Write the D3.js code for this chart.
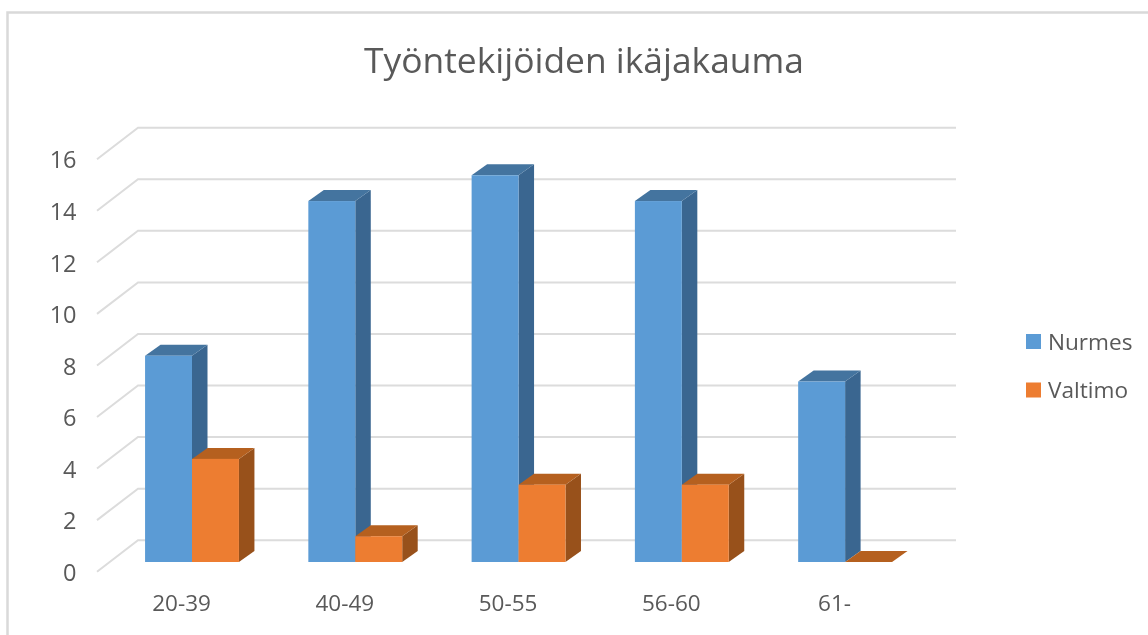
<!DOCTYPE html>
<html>
<head>
<meta charset="utf-8">
<script src="https://cdn.jsdelivr.net/npm/d3@7"></script>
<style>
  html, body { margin: 0; padding: 0; background: #fff; }
  svg { display: block; filter: blur(0.4px); }
  text { font-family: "Open Sans", sans-serif; fill: #595959; }
</style>
</head>
<body>
<div id="chart"></div>
<script>
const title = 'Työntekijöiden ikäjakauma'
const categories = ['20-39', '40-49', '50-55', '56-60', '61-']
const seriesNames = ['Nurmes', 'Valtimo']
const nurmes = [8, 14, 15, 14, 7]
const valtimo = [4, 1, 3, 3, 0]
const yTicks = [0, 2, 4, 6, 8, 10, 12, 14, 16]

const seriesColors = {
  Nurmes: { front: '#5b9bd5', top: '#44749f', side: '#3a6690' },
  Valtimo: { front: '#ed7d31', top: '#b5601f', side: '#98511b' }
}
const seriesValues = { Nurmes: nurmes, Valtimo: valtimo }

const width = 1148
const height = 635
const gridColor = '#dcdcdc'

// front edge of the 3d floor, the back wall is shifted by wall offset
const floorLeft = 97
const floorFrontY = 571.7
const wallDx = 41
const wallDy = -31.5
const barDx = 15.5
const barDy = -11
const barInsetY = 9.7
const barInsetX = 12.8

const svg = d3.select('#chart')
  .append('svg')
  .attr('width', width)
  .attr('height', height)

// outer chart border, cut off by the crop on the right and bottom
svg.append('path')
  .attr('d', 'M7.5,' + height + 'V12.5H' + width)
  .attr('fill', 'none')
  .attr('stroke', '#d9d9d9')
  .attr('stroke-width', 2.5)

svg.append('text')
  .attr('x', 584)
  .attr('y', 73)
  .attr('text-anchor', 'middle')
  .style('font-size', '35.4px')
  .text(title)

const y = d3.scaleLinear()
  .domain([0, 16])
  .range([0, -412.5])

const x0 = d3.scaleBand()
  .domain(categories)
  .range([floorLeft + barInsetX, floorLeft + barInsetX + 817.5])
  .paddingInner(69.5 / 163.5)
  .paddingOuter(0.216)
  .align(0.5)

const x1 = d3.scaleBand()
  .domain(seriesNames)
  .range([0, x0.bandwidth()])

// gridlines: short diagonal on the side wall, then along the back wall
svg.append('g')
  .selectAll('path')
  .data(yTicks)
  .enter()
  .append('path')
  .attr('d', d => {
    const yFront = floorFrontY + y(d)
    return 'M' + floorLeft + ',' + yFront + 'l' + wallDx + ',' + wallDy + 'H956'
  })
  .attr('fill', 'none')
  .attr('stroke', gridColor)
  .attr('stroke-width', 2)

const groups = svg.append('g')
  .selectAll('g')
  .data(categories)
  .enter()
  .append('g')
  .attr('transform', d => 'translate(' + x0(d) + ',' + (floorFrontY - barInsetY) + ')')

groups.each(function (category, i) {
  const group = d3.select(this)
  seriesNames.forEach(name => {
    const colors = seriesColors[name]
    const left = x1(name)
    const right = left + x1.bandwidth()
    const top = y(seriesValues[name][i])

    group.append('path')
      .attr('d', 'M' + right + ',0V' + top + 'l' + barDx + ',' + barDy + 'V' + barDy + 'Z')
      .attr('fill', colors.side)
    group.append('path')
      .attr('d', 'M' + left + ',' + top + 'H' + right + 'l' + barDx + ',' + barDy + 'H' + (left + barDx) + 'Z')
      .attr('fill', colors.top)
    group.append('rect')
      .attr('x', left)
      .attr('y', top)
      .attr('width', x1.bandwidth())
      .attr('height', -top)
      .attr('fill', colors.front)
  })
})

const yAxis = d3.axisLeft(y)
  .tickValues(yTicks)
  .tickSize(0)
  .tickPadding(0)

svg.append('g')
  .attr('transform', 'translate(76.5,' + (floorFrontY + 1.2) + ')')
  .call(yAxis)
  .call(g => g.select('.domain').remove())
  .selectAll('text')
  .style('font-size', '23.5px')
  .style('font-family', '"Open Sans", sans-serif')
  .attr('fill', '#595959')

const xAxis = d3.axisBottom(x0)
  .tickSize(0)
  .tickPadding(0)

svg.append('g')
  .attr('transform', 'translate(-10.5,595)')
  .call(xAxis)
  .call(g => g.select('.domain').remove())
  .selectAll('text')
  .style('font-size', '22.5px')
  .style('font-family', '"Open Sans", sans-serif')
  .attr('fill', '#595959')

const legend = svg.append('g')
  .selectAll('g')
  .data(seriesNames)
  .enter()
  .append('g')
  .attr('transform', (d, i) => 'translate(1026,' + (334 + i * 48.5) + ')')

legend.append('rect')
  .attr('width', 15)
  .attr('height', 15)
  .attr('fill', d => seriesColors[d].front)

legend.append('text')
  .attr('x', 22)
  .attr('y', 15.5)
  .style('font-size', '22.6px')
  .text(d => d)
</script>
</body>
</html>
